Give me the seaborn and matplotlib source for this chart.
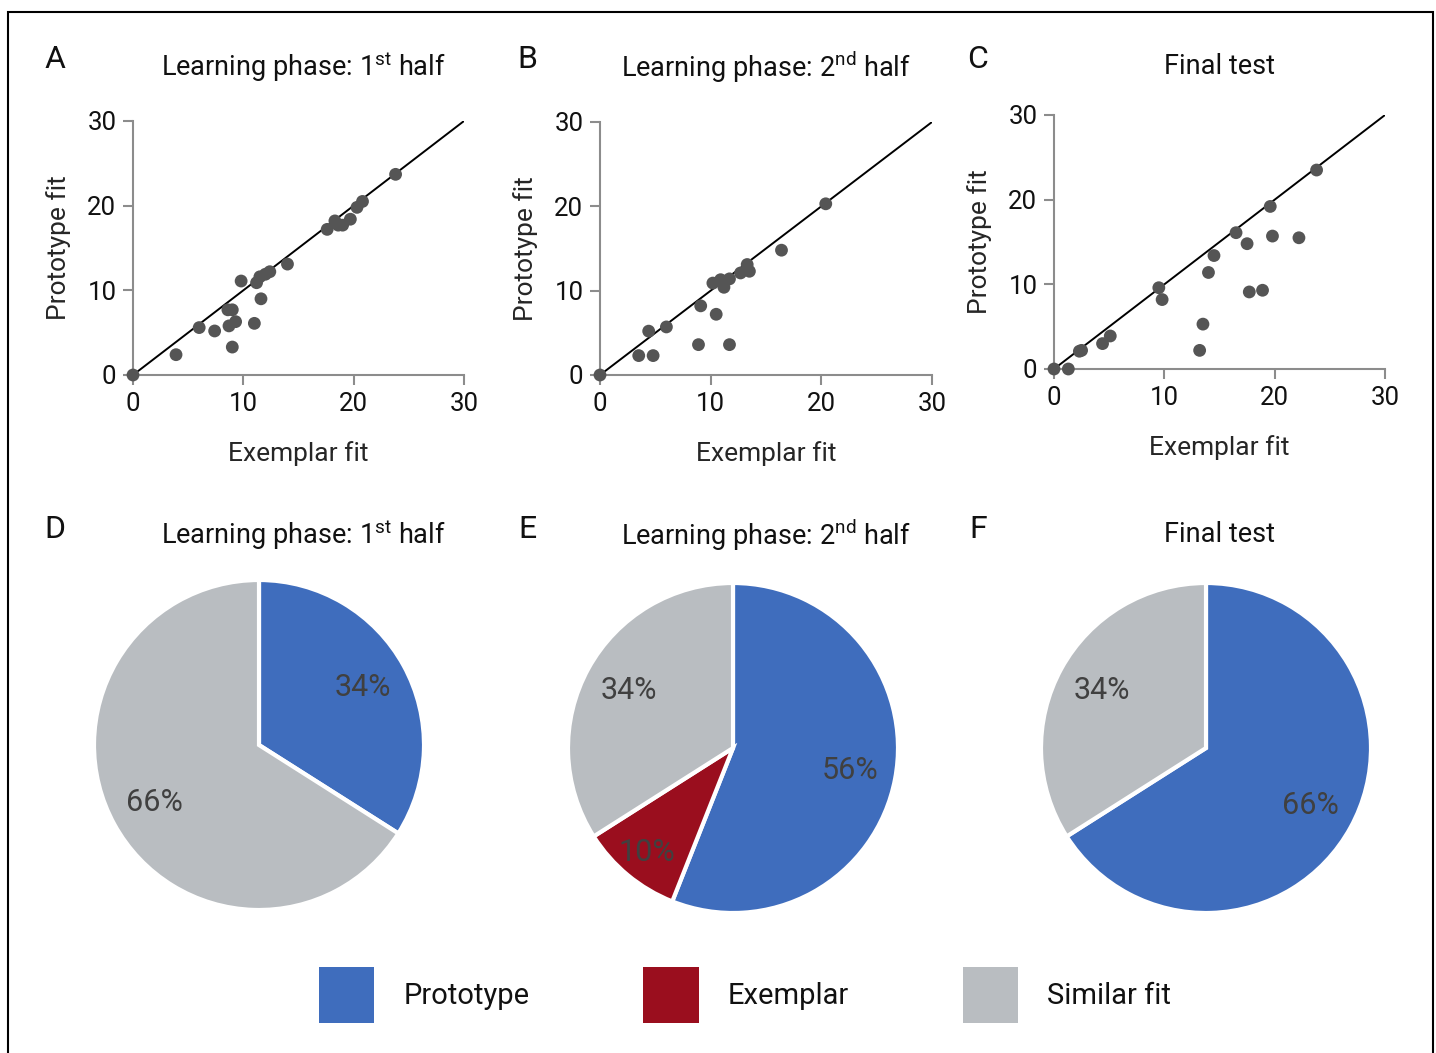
import numpy as np
import pandas as pd
import seaborn as sns
import matplotlib.pyplot as plt
from matplotlib.patches import Patch, Rectangle

# ---- data ----
a_exemplar = [0, 3.9, 6.0, 7.4, 8.7, 9.3, 9.0, 11.0, 8.6, 9.0, 11.6, 9.8, 11.2, 11.5, 12.0, 12.4,
              14.0, 17.6, 18.3, 18.6, 19.0, 19.7, 20.3, 20.8, 23.8]
a_prototype = [0, 2.4, 5.6, 5.2, 5.8, 6.3, 3.3, 6.1, 7.7, 7.7, 9.0, 11.1, 10.9, 11.6, 11.9, 12.2,
               13.1, 17.2, 18.2, 17.7, 17.7, 18.4, 19.8, 20.5, 23.7]
b_exemplar = [0, 3.5, 4.8, 4.4, 6.0, 8.9, 9.1, 10.5, 11.7, 10.2, 10.9, 11.2, 11.7, 12.7, 13.3, 13.5,
              16.4, 20.4]
b_prototype = [0, 2.3, 2.3, 5.2, 5.7, 3.6, 8.2, 7.2, 3.6, 10.9, 11.3, 10.4, 11.4, 12.1, 13.1, 12.3,
               14.8, 20.3]
c_exemplar = [0, 1.3, 2.3, 2.5, 4.4, 5.1, 9.5, 9.8, 13.2, 13.5, 14.0, 14.5, 16.5, 17.5, 17.7, 18.9,
              19.6, 19.8, 22.2, 23.8]
c_prototype = [0, 0, 2.1, 2.2, 3.0, 3.9, 9.6, 8.2, 2.2, 5.3, 11.4, 13.4, 16.1, 14.8, 9.1, 9.3,
               19.2, 15.7, 15.5, 23.5]

scatter_titles = [r"Learning phase: 1$^{\mathregular{st}}$ half",
                  r"Learning phase: 2$^{\mathregular{nd}}$ half",
                  "Final test"]
panel_letters = ["A", "B", "C", "D", "E", "F"]

categories = ["Prototype", "Exemplar", "Similar fit"]
pie_d = [34, 0, 66]
pie_e = [56, 10, 34]
pie_f = [66, 0, 34]
colors = {"Prototype": "#3f6dbd", "Exemplar": "#9a0e1e", "Similar fit": "#b9bdc1"}

# ---- style ----
sns.set_theme(style="white")
FONT = "Roboto"
plt.rcParams["font.family"] = [FONT, "DejaVu Sans"]
plt.rcParams["font.weight"] = "normal"
plt.rcParams["axes.labelweight"] = "normal"
plt.rcParams["mathtext.fontset"] = "custom"
plt.rcParams["mathtext.rm"] = FONT
plt.rcParams["text.color"] = "#111111"

W, H = 1436, 1053
fig = plt.figure(figsize=(W / 100, H / 100), dpi=100)


def px_axes(x0, y0, x1, y1):
    # pixel box (top-left origin) -> figure axes
    return fig.add_axes([x0 / W, 1 - y1 / H, (x1 - x0) / W, (y1 - y0) / H])


def ftext(x, y, s, **kw):
    fig.text(x / W, 1 - y / H, s, ha="center", va="center", **kw)


# frame round the whole figure
fig.patches.append(Rectangle((8 / W, -0.01), (1433 - 8) / W, 1 - 12 / H + 0.01,
                             transform=fig.transFigure, fill=False, ec="black", lw=1.5))

scatter_boxes = [(133, 121, 464, 375), (600, 122, 932, 375), (1054, 115, 1385, 369)]
scatter_data = [(a_exemplar, a_prototype), (b_exemplar, b_prototype), (c_exemplar, c_prototype)]
title_x = [303, 766, 1220]
letter_x = [55, 527, 978]

for i, (box, (ex, pr)) in enumerate(zip(scatter_boxes, scatter_data)):
    ax = px_axes(*box)
    df = pd.DataFrame({"ex": ex, "pr": pr})
    ax.plot([0, 30], [0, 30], color="black", lw=1.4, zorder=2)
    sns.scatterplot(data=df, x="ex", y="pr", ax=ax, color="#555555", s=85,
                    edgecolor="none", zorder=3, clip_on=False)
    ax.set_xlim(0, 30)
    ax.set_ylim(0, 30)
    ax.set_xticks([0, 10, 20, 30])
    ax.set_yticks([0, 10, 20, 30])
    for side in ["top", "right"]:
        ax.spines[side].set_visible(False)
    for side in ["left", "bottom"]:
        ax.spines[side].set_color("#8c8c8c")
        ax.spines[side].set_linewidth(1.5)
    ax.tick_params(axis="both", length=7, width=1.5, color="#8c8c8c", labelsize=18.5,
                   labelcolor="#111111", direction="out", bottom=True, left=True, pad=5)
    ax.set_xlabel("Exemplar fit", fontsize=19, labelpad=18)
    ax.set_ylabel("Prototype fit", fontsize=19, labelpad=12)
    ftext(title_x[i], 67, scatter_titles[i], fontsize=19.5)
    ftext(letter_x[i], 60, panel_letters[i], fontsize=23)

pie_centers = [(259, 745), (733, 748), (1206, 748)]
pie_values = [pie_d, pie_e, pie_f]
R = 165
for i, ((cx, cy), vals) in enumerate(zip(pie_centers, pie_values)):
    ax = px_axes(cx - R, cy - R, cx + R, cy + R)
    labs = [c for c, v in zip(categories, vals) if v > 0]
    vs = [v for v in vals if v > 0]
    wedges, texts, autos = ax.pie(vs, colors=[colors[c] for c in labs], startangle=90,
                                  counterclock=False, autopct="%d%%", pctdistance=0.72,
                                  wedgeprops=dict(edgecolor="white", linewidth=3),
                                  textprops=dict(fontsize=22, color="#404040"))
    for lab, t in zip(labs, autos):
        if lab == "Exemplar":
            x, y = t.get_position()
            t.set_position((x * 0.82 / 0.72, y * 0.82 / 0.72))
    ax.set_xlim(-1, 1)
    ax.set_ylim(-1, 1)
    ax.set_aspect("equal")
    ftext(title_x[i], 535, scatter_titles[i], fontsize=19.5)
    ftext(letter_x[i], 530, panel_letters[i + 3], fontsize=23)

handles = [Patch(facecolor=colors[c], edgecolor="none", label=c) for c in categories]
fig.legend(handles=handles, loc="center", bbox_to_anchor=(745 / W, 1 - 995 / H), ncol=3,
           frameon=False, fontsize=21, handlelength=1.9, handleheight=2.6,
           handletextpad=1.0, columnspacing=3.9)

fig.savefig("out.png", dpi=100)
